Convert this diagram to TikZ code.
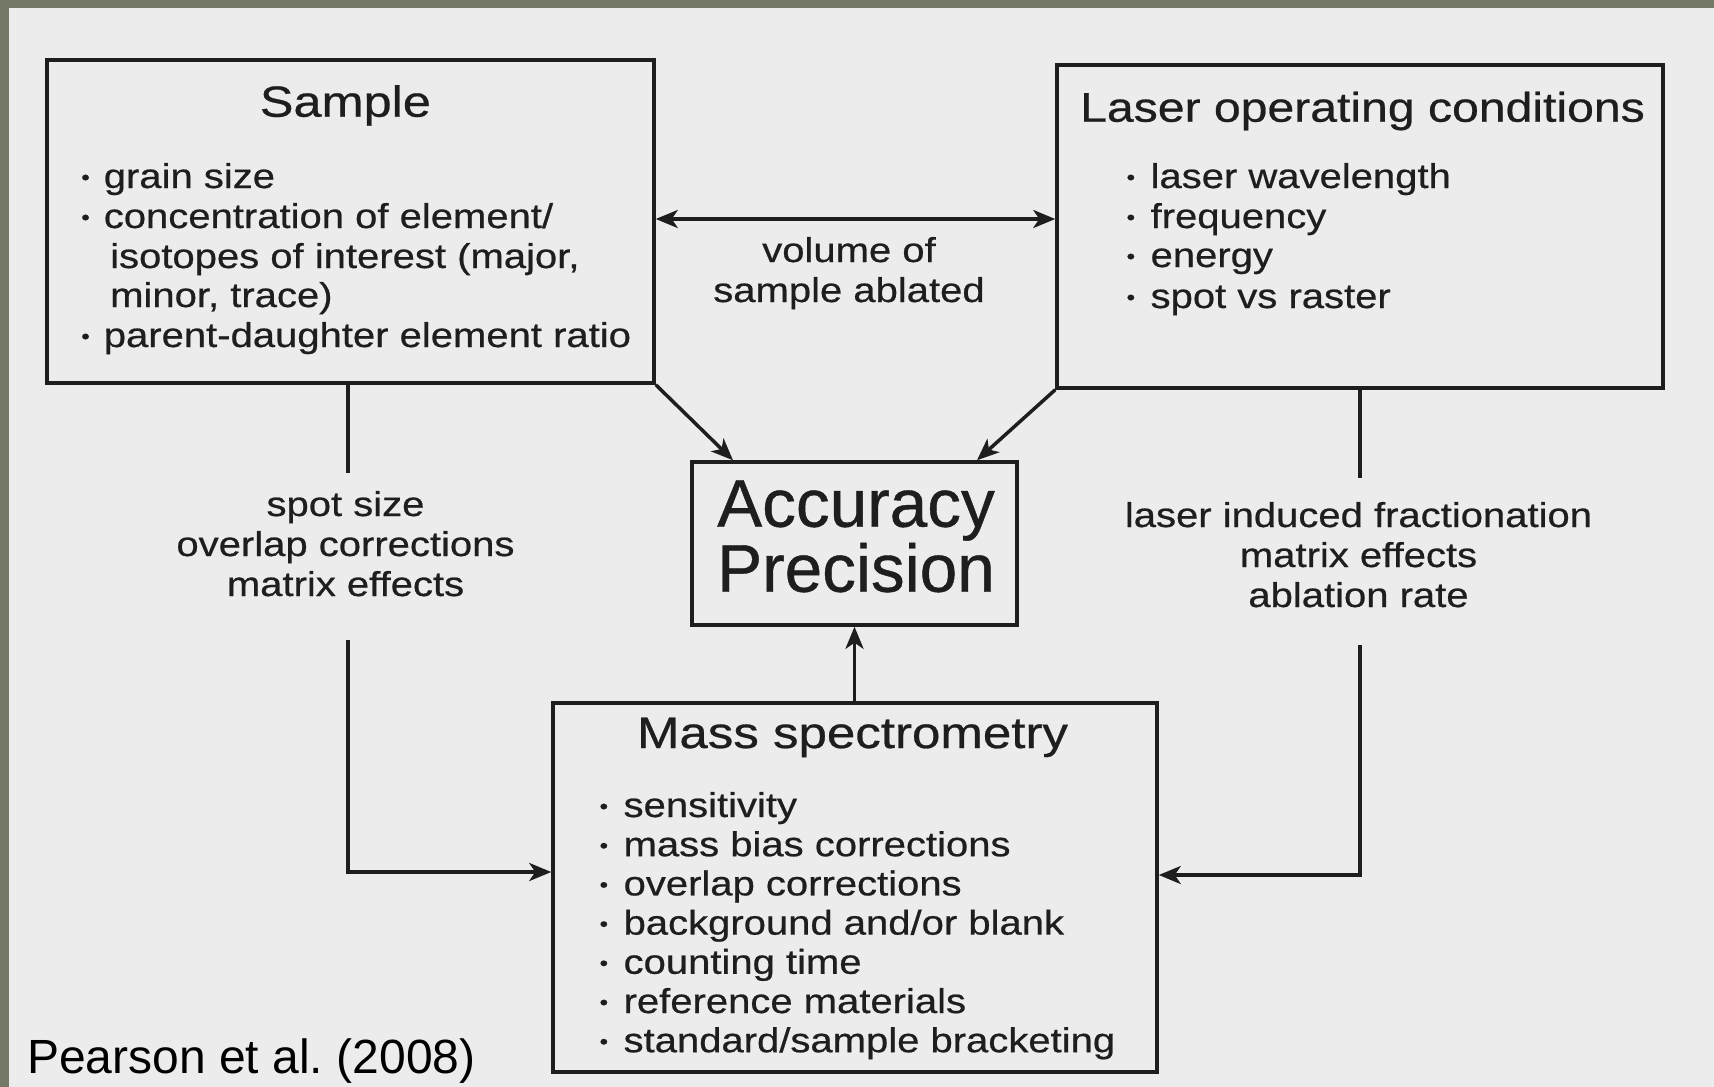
\documentclass[tikz,border=0pt]{standalone}
\usepackage{fontspec}
\setmainfont{Liberation Sans}
\newfontfamily\scanfont{Liberation Sans}[FakeStretch=1.16,FakeBold=0.6]
\newfontfamily\plainfont{Liberation Sans}
\newfontfamily\bigfont{Liberation Sans}[FakeBold=0.6]
\usetikzlibrary{arrows.meta}
\definecolor{ink}{HTML}{1E1E1E}
\definecolor{paper}{HTML}{ECECEC}
\definecolor{frameol}{RGB}{116,121,103}
\newcommand\bul[1]{\makebox[#1pt][l]{\raisebox{3.5pt}{\fontsize{21}{21}\selectfont •}}}
\tikzset{
  box/.style={draw=ink, line width=3.5pt, inner sep=0pt, minimum width=#1},
  conn/.style={draw=ink, line width=3.5pt},
  tip/.style={},
  arr/.style={conn, -{Stealth[length=22pt,width=18pt,inset=6pt]}},
  darr/.style={conn, {Stealth[length=22pt,width=18pt,inset=6pt]}-{Stealth[length=22pt,width=18pt,inset=6pt]}},
  body/.style={inner sep=0pt, text=ink, font=\scanfont\fontsize{34.5}{40}\selectfont},
  lft/.style={body, anchor=base west},
  ctr/.style={body, anchor=base},
  ttl/.style={inner sep=0pt, text=ink, anchor=base, font=\scanfont\fontsize{#1}{#1}\selectfont},
  big/.style={inner sep=0pt, text=ink, anchor=base, font=\bigfont\fontsize{67.5}{70}\selectfont},
}
\begin{document}
\begin{tikzpicture}[x=1pt,y=-1pt]
\useasboundingbox (0,0) rectangle (1714,1087);
\fill[paper] (0,0) rectangle (1714,1087);
\fill[frameol] (0,0) rectangle (1714,8);
\fill[frameol] (0,0) rectangle (9,1087);

% boxes
\node[box=607pt, minimum height=323pt] (sample) at (350.5,221.5) {};
\node[box=606pt, minimum height=323pt] (laser) at (1360,226.5) {};
\node[box=325pt, minimum height=163pt] (acc) at (854.5,543.5) {};
\node[box=604pt, minimum height=369pt] (ms) at (855,887.5) {};

% Sample text
\node[ttl=43.5] (stitle) at (345.4,116.7) {Sample};
\node[lft] (s1) at (81.1,188) {\bul{22.5}grain size};
\node[lft] (s2) at (81.1,228) {\bul{22.5}concentration of element/};
\node[lft] (s3) at (110,268) {isotopes of interest (major,};
\node[lft] (s4) at (110,307) {minor, trace)};
\node[lft] (s5) at (81.1,347) {\bul{22.5}parent-daughter element ratio};

% Laser text
\node[ttl=41.5, anchor=base west] (ltitle) at (1080,121.7) {Laser operating conditions};
\node[lft] (l1) at (1126.4,188) {\bul{24}laser wavelength};
\node[lft] (l2) at (1126.4,228) {\bul{24}frequency};
\node[lft] (l3) at (1126.4,267) {\bul{24}energy};
\node[lft] (l4) at (1126.4,308) {\bul{24}spot vs raster};

% volume label
\node[ctr] (v1) at (849,262) {volume of};
\node[ctr] (v2) at (849,302) {sample ablated};

% Accuracy / Precision
\node[big] (a1) at (856,526.7) {Accuracy};
\node[big] (a2) at (856,591.7) {Precision};

% left labels
\node[ctr] (ll1) at (345.5,516) {spot size};
\node[ctr] (ll2) at (345.5,556) {overlap corrections};
\node[ctr] (ll3) at (345.5,596) {matrix effects};

% right labels
\node[ctr] (rl1) at (1358.5,527) {laser induced fractionation};
\node[ctr] (rl2) at (1358.5,567) {matrix effects};
\node[ctr] (rl3) at (1358.5,607) {ablation rate};

% Mass spectrometry text
\node[ttl=44] (mtitle) at (852.5,748) {Mass spectrometry};
\node[lft] (m1) at (599.4,817) {\bul{24}sensitivity};
\node[lft] (m2) at (599.4,856.2) {\bul{24}mass bias corrections};
\node[lft] (m3) at (599.4,895.4) {\bul{24}overlap corrections};
\node[lft] (m4) at (599.4,934.6) {\bul{24}background and/or blank};
\node[lft] (m5) at (599.4,973.8) {\bul{24}counting time};
\node[lft] (m6) at (599.4,1013) {\bul{24}reference materials};
\node[lft] (m7) at (599.4,1052.2) {\bul{24}standard/sample bracketing};

% citation
\node[inner sep=0pt, anchor=base west, text=black, font=\plainfont\fontsize{48}{56}\selectfont] (cite) at (27,1073) {Pearson et al.\ (2008)};

% gap coordinates
\coordinate (lg1) at (348,473);
\coordinate (lg2) at (348,640);
\coordinate (rg1) at (1360,478);
\coordinate (rg2) at (1360,645);

% connectors
\draw[darr] (sample.east |- 0,219) -- (laser.west |- 0,219);
\draw[arr] (sample.south east) -- (acc.north -| 733,0);
\draw[arr] (laser.south west) -- (acc.north -| 977,0);
\draw[arr] (ms.north -| acc.south) -- (acc.south);
\draw[conn] (sample.south -| lg1) -- (lg1);
\draw[arr] (lg2) |- (ms.west |- 0,872);
\draw[conn] (laser.south -| rg1) -- (rg1);
\draw[arr] (rg2) |- (ms.east |- 0,875);
\end{tikzpicture}
\end{document}
